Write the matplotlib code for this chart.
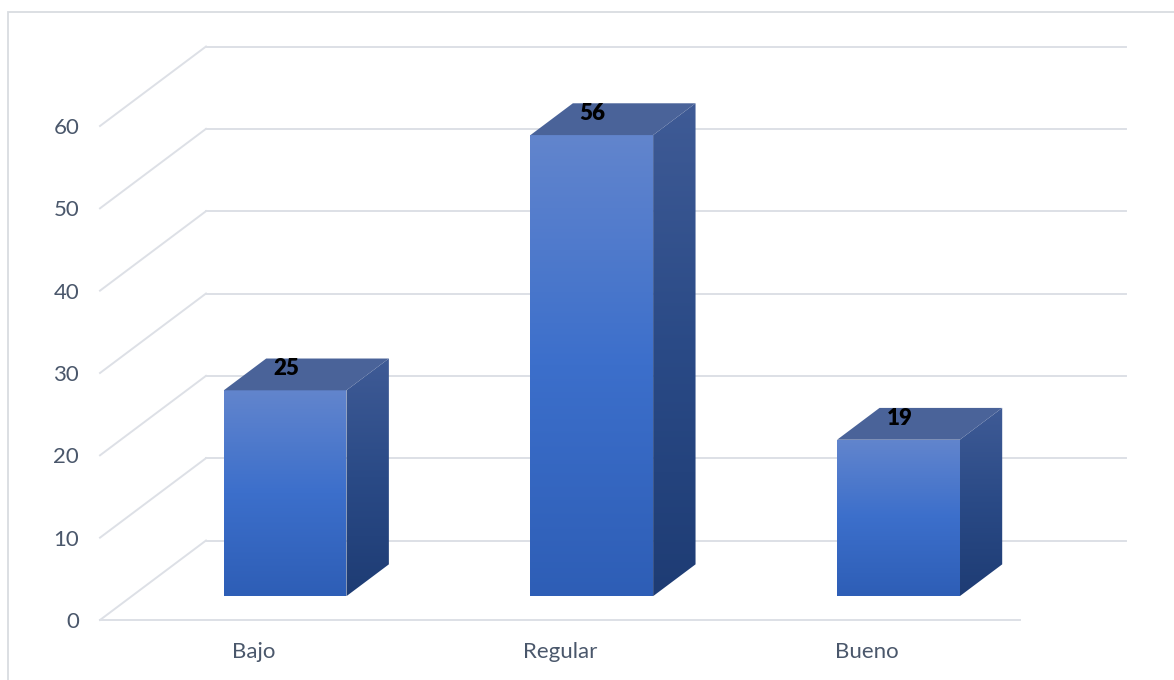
import numpy as np
import matplotlib
matplotlib.use("Agg")
import matplotlib.pyplot as plt
from matplotlib.patches import Polygon, Rectangle
from matplotlib.colors import LinearSegmentedColormap

categories = ["Bajo", "Regular", "Bueno"]
values = [25, 56, 19]
yticks = [0, 10, 20, 30, 40, 50, 60]

plt.rcParams['font.family'] = ['Lato', 'DejaVu Sans']

W, H = 1174, 680
fig = plt.figure(figsize=(W / 100, H / 100), dpi=100)
fig.patch.set_facecolor("white")

# figure border
fig.add_artist(Rectangle((8 / W, -0.01), 1.2, (H - 12) / H + 0.01, transform=fig.transFigure,
                         fill=False, edgecolor="#D9DCE1", linewidth=1.3))

# axes: front plane from x=100..1020 px, y 0 at 620 px, 60 at 126 px
left, right = 100, 1020
y0, y60 = 620, 126
ax = fig.add_axes([left / W, (H - y0) / H, (right - left) / W, (y0 - y60) / H])
ax.set_xlim(-0.5, len(categories) - 0.5)
ax.set_ylim(0, 60)
ax.patch.set_alpha(0)
for s in ax.spines.values():
    s.set_visible(False)

grid_c = "#DDE0E6"
# depth in data units (full depth)
DX = 106 / ((right - left) / 3)
DY = 79.5 / ((y0 - y60) / 60)

xmin, xmax = -0.5, len(categories) - 0.5
for v in yticks:
    ax.plot([xmin, xmin + DX], [v, v + DY], color=grid_c, lw=1.4, clip_on=False, zorder=0)
    ax.plot([xmin + DX, xmax + DX], [v + DY, v + DY], color=grid_c, lw=1.4, clip_on=False, zorder=0)
ax.plot([xmin, xmax], [0, 0], color=grid_c, lw=1.4, clip_on=False, zorder=0)

# bars
f0, fd = 0.3, 0.4
bw = 0.4
front_cmap = LinearSegmentedColormap.from_list("front", ["#6285CD", "#3C6FCB", "#2E5EB6"])
side_cmap = LinearSegmentedColormap.from_list("side", ["#3F5B96", "#2A4A86", "#1E3C74"])
top_color = "#4A6399"
grad = np.linspace(0, 1, 256).reshape(-1, 1)


def shaded(poly_pts, cmap, extent):
    poly = Polygon(poly_pts, closed=True, facecolor="none", edgecolor="none", clip_on=False)
    ax.add_patch(poly)
    im = ax.imshow(grad, cmap=cmap, extent=extent, aspect="auto", origin="upper", zorder=3)
    im.set_clip_path(poly)
    im.set_clip_box(fig.bbox)
    return im


for i, v in enumerate(values):
    ox, oy = f0 * DX, f0 * DY
    dx, dy = fd * DX, fd * DY
    xl, xr = i - bw / 2 + ox, i + bw / 2 + ox
    yb, yt = oy, v + oy
    shaded([(xl, yb), (xr, yb), (xr, yt), (xl, yt)], front_cmap, [xl, xr, yb, yt])
    shaded([(xr, yb), (xr + dx, yb + dy), (xr + dx, yt + dy), (xr, yt)], side_cmap,
           [xr, xr + dx, yb, yt + dy])
    top = Polygon([(xl, yt), (xr, yt), (xr + dx, yt + dy), (xl + dx, yt + dy)], closed=True,
                  facecolor=top_color, edgecolor="none", zorder=3, clip_on=False)
    ax.add_patch(top)
    ax.text(i + ox + 0.003, yt + dy * 0.68, str(v), ha="center", va="center",
            fontsize=16, fontweight="heavy", color="black", zorder=5, clip_on=False)

ax.set_xlim(-0.5, len(categories) - 0.5)
ax.set_ylim(0, 60)
ax.set_xticks(range(len(categories)))
ax.set_xticklabels(categories)
ax.set_yticks(yticks)
ax.tick_params(axis="both", length=0, labelsize=16, labelcolor="#4A576B")
ax.tick_params(axis="x", pad=16)
ax.tick_params(axis="y", pad=15)

fig.savefig("out.png", dpi=100)
